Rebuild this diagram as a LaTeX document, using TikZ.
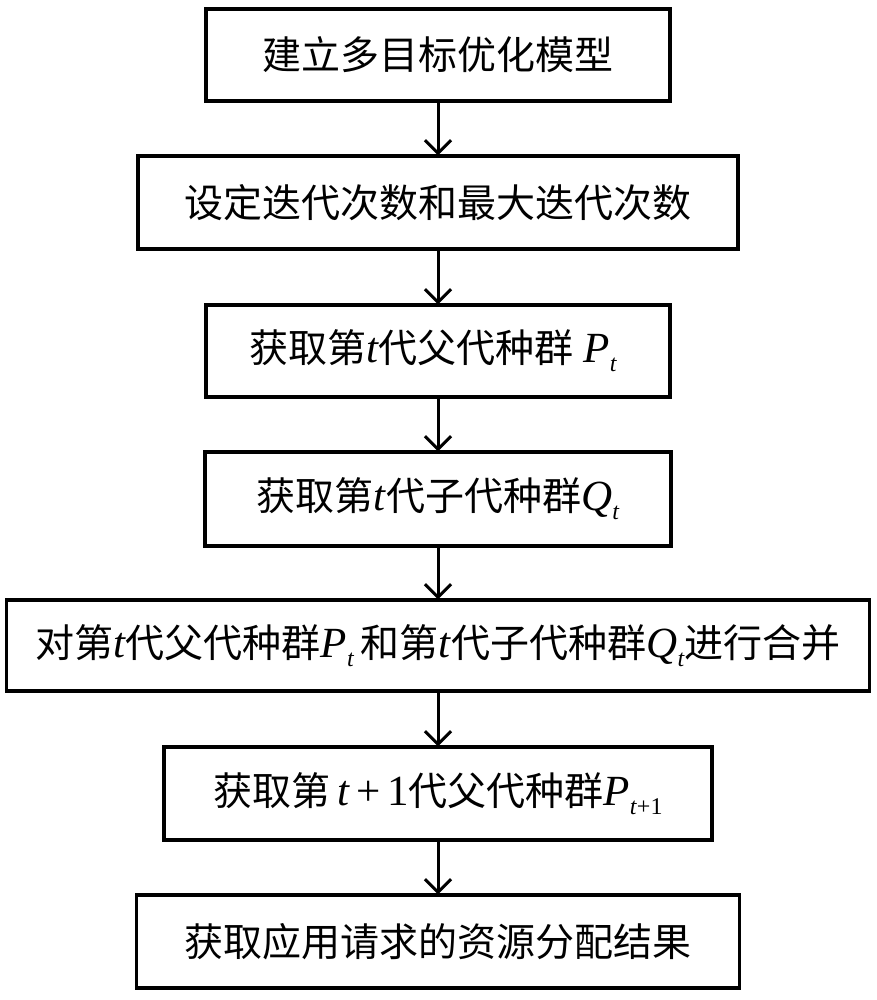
\documentclass[tikz,border=0pt]{standalone}
\usepackage{fontspec}
\setmainfont{Liberation Serif}
\newfontfamily\cjk{Noto Sans CJK SC}
\usetikzlibrary{arrows.meta}
\newcommand\zh[1]{{\cjk #1}}
\newcommand\ii[1]{{\fontsize{43}{40}\selectfont\textit{#1}}}
\newcommand\rr[1]{{\fontsize{43}{40}\selectfont #1}}
\newcommand\sbs[1]{\raisebox{-0.5ex}{\fontsize{24}{24}\selectfont #1}}
\begin{document}
\begin{tikzpicture}[x=1pt,y=-1pt,
  box/.style={draw=black,line width=3.4pt,inner sep=0pt,align=center,
    font=\fontsize{39}{40}\selectfont},
  arr/.style={line width=3pt,-{Straight Barb[length=13pt,width=26pt,line width=3pt]},shorten >=-1pt}]
\useasboundingbox (0,0) rectangle (876,1000);
\node[box,minimum width=464pt,minimum height=92pt] (b1) at (438,55) {\zh{建立多目标优化模型}};
\node[box,minimum width=600pt,minimum height=93pt] (b2) at (438,202.5) {\zh{设定迭代次数和最大迭代次数}};
\node[box,minimum width=464pt,minimum height=92pt] (b3) at (438,351) {\zh{获取第}\ii{t}\zh{代父代种群}\ \ii{P}\sbs{\textit{t}}\ };
\node[box,minimum width=466pt,minimum height=94pt] (b4) at (438,499) {\zh{获取第}\ii{t}\zh{代子代种群}\ii{Q}\sbs{\textit{t}}};
\node[box,minimum width=863pt,minimum height=91pt] (b5) at (438,645.5) {\zh{对第}\ii{t}\zh{代父代种群}\ii{P}\sbs{\textit{t}}\,\zh{和第}\ii{t}\zh{代子代种群}\ii{Q}\sbs{\textit{t}}\zh{进行合并}};
\node[box,minimum width=548pt,minimum height=93pt] (b6) at (438,793.5) {\zh{获取第}\,\ii{t}\,\rr{+}\,\rr{1}\zh{代父代种群}\ii{P}\sbs{\textit{t}+1}};
\node[box,minimum width=603pt,minimum height=93pt] (b7) at (438,941.5) {\zh{获取应用请求的资源分配结果}};
\draw[arr] (b1.south) -- (b2.north);
\draw[arr] (b2.south) -- (b3.north);
\draw[arr] (b3.south) -- (b4.north);
\draw[arr] (b4.south) -- (b5.north);
\draw[arr] (b5.south) -- (b6.north);
\draw[arr] (b6.south) -- (b7.north);
\end{tikzpicture}
\end{document}
